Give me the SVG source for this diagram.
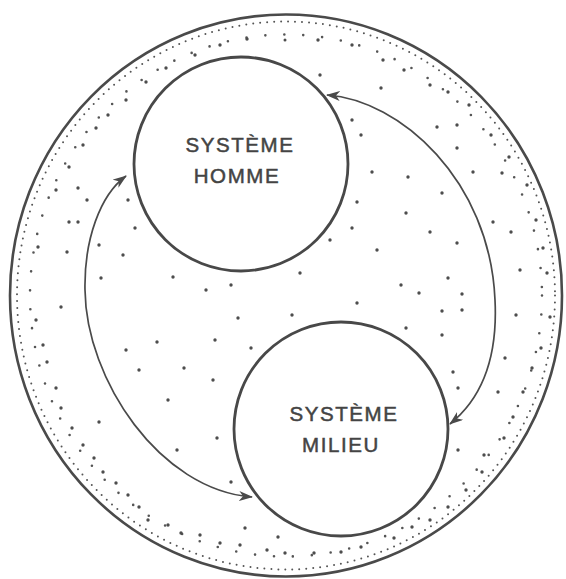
<svg xmlns="http://www.w3.org/2000/svg" width="566" height="579" viewBox="0 0 566 579">
<style>
.ring{fill:none;stroke:#4a4a4a;stroke-width:2.6}
.node{fill:none;stroke:#484848;stroke-width:2.8}
.lbl{font-family:"Liberation Sans",Arial,sans-serif;font-size:20.5px;font-weight:normal;fill:#444;stroke:#444;stroke-width:0.5;text-anchor:middle;letter-spacing:1.6px}
.dotline{fill:none;stroke:#555;stroke-linecap:round}
.conn{fill:none;stroke:#4a4a4a;stroke-width:1.7}
.st circle{fill:#4d4d4d}
</style>
<defs>
<marker id="ah" viewBox="0 0 14 10" refX="13" refY="5" markerWidth="14" markerHeight="10" markerUnits="userSpaceOnUse" orient="auto-start-reverse">
<path d="M0,0 L14,5 L0,10 L4,5 Z" fill="#4a4a4a"/>
</marker>
</defs>
<rect width="566" height="579" fill="#ffffff"/>
<g id="environnement">
<ellipse class="ring" cx="286" cy="295.5" rx="276" ry="281"/>
<ellipse class="dotline" cx="286" cy="295.5" rx="269" ry="274" stroke-width="2" stroke-dasharray="0 7"/>
<ellipse class="dotline" cx="286" cy="295.5" rx="256" ry="261" stroke-width="2.6" stroke-dasharray="0 19"/>
</g>
<g class="st" id="stipple">
<circle cx="247" cy="39" r="1.7"/><circle cx="285" cy="40" r="1.5"/><circle cx="318" cy="40" r="1.7"/><circle cx="352" cy="45" r="1.7"/>
<circle cx="220" cy="45" r="1.7"/><circle cx="195" cy="55" r="1.7"/><circle cx="166" cy="68" r="1.7"/><circle cx="146" cy="82" r="1.7"/>
<circle cx="126" cy="100" r="1.7"/><circle cx="108" cy="115" r="1.7"/><circle cx="96" cy="128" r="1.7"/><circle cx="83" cy="145" r="1.7"/>
<circle cx="69" cy="167" r="1.7"/><circle cx="56" cy="190" r="1.7"/><circle cx="78" cy="188" r="1.7"/><circle cx="87" cy="200" r="1.7"/>
<circle cx="69" cy="222" r="1.7"/><circle cx="78" cy="222" r="1.7"/><circle cx="38" cy="247" r="1.7"/><circle cx="67" cy="252" r="1.7"/>
<circle cx="99" cy="245" r="1.7"/><circle cx="123" cy="255" r="1.7"/><circle cx="135" cy="228" r="1.7"/><circle cx="128" cy="200" r="1.7"/>
<circle cx="101" cy="278" r="1.7"/><circle cx="173" cy="277" r="1.7"/><circle cx="231" cy="285" r="1.7"/><circle cx="300" cy="273" r="1.7"/>
<circle cx="330" cy="240" r="1.7"/><circle cx="352" cy="228" r="1.7"/><circle cx="357" cy="202" r="1.7"/><circle cx="372" cy="172" r="1.7"/>
<circle cx="361" cy="135" r="1.7"/><circle cx="352" cy="120" r="1.7"/><circle cx="320" cy="75" r="1.7"/><circle cx="381" cy="88" r="1.7"/>
<circle cx="383" cy="60" r="1.7"/><circle cx="404" cy="70" r="1.7"/><circle cx="430" cy="85" r="1.7"/><circle cx="448" cy="92" r="1.7"/>
<circle cx="437" cy="127" r="1.7"/><circle cx="457" cy="125" r="1.7"/><circle cx="457" cy="148" r="1.7"/><circle cx="469" cy="105" r="1.7"/>
<circle cx="491" cy="135" r="1.7"/><circle cx="408" cy="177" r="1.7"/><circle cx="442" cy="193" r="1.7"/><circle cx="473" cy="172" r="1.7"/>
<circle cx="502" cy="173" r="1.7"/><circle cx="527" cy="185" r="1.7"/><circle cx="509" cy="157" r="1.7"/><circle cx="406" cy="213" r="1.7"/>
<circle cx="430" cy="232" r="1.7"/><circle cx="457" cy="243" r="1.7"/><circle cx="377" cy="250" r="1.7"/><circle cx="401" cy="285" r="1.7"/>
<circle cx="448" cy="278" r="1.7"/><circle cx="493" cy="222" r="1.7"/><circle cx="511" cy="232" r="1.7"/><circle cx="520" cy="270" r="1.7"/>
<circle cx="536" cy="220" r="1.7"/><circle cx="543" cy="248" r="1.7"/><circle cx="547" cy="273" r="1.7"/>
<circle cx="206" cy="290" r="1.7"/><circle cx="238" cy="318" r="1.7"/><circle cx="292" cy="315" r="1.7"/><circle cx="357" cy="303" r="1.7"/>
<circle cx="419" cy="293" r="1.7"/><circle cx="462" cy="294" r="1.7"/><circle cx="442" cy="311" r="1.7"/><circle cx="462" cy="310" r="1.7"/>
<circle cx="406" cy="328" r="1.7"/><circle cx="442" cy="335" r="1.7"/><circle cx="126" cy="350" r="1.7"/><circle cx="157" cy="342" r="1.7"/>
<circle cx="215" cy="340" r="1.7"/><circle cx="251" cy="348" r="1.7"/><circle cx="139" cy="370" r="1.7"/><circle cx="184" cy="368" r="1.7"/>
<circle cx="213" cy="380" r="1.7"/><circle cx="168" cy="400" r="1.7"/><circle cx="217" cy="438" r="1.7"/><circle cx="177" cy="450" r="1.7"/>
<circle cx="99" cy="422" r="1.7"/><circle cx="61" cy="307" r="1.7"/><circle cx="36" cy="320" r="1.7"/><circle cx="43" cy="345" r="1.7"/>
<circle cx="47" cy="362" r="1.7"/><circle cx="56" cy="388" r="1.7"/><circle cx="61" cy="408" r="1.7"/><circle cx="72" cy="428" r="1.7"/>
<circle cx="83" cy="445" r="1.7"/><circle cx="94" cy="458" r="1.7"/><circle cx="103" cy="472" r="1.7"/><circle cx="116" cy="483" r="1.7"/>
<circle cx="128" cy="495" r="1.7"/><circle cx="139" cy="507" r="1.7"/><circle cx="231" cy="482" r="1.7"/><circle cx="453" cy="372" r="1.7"/>
<circle cx="458" cy="388" r="1.7"/><circle cx="498" cy="392" r="1.7"/><circle cx="505" cy="358" r="1.7"/><circle cx="523" cy="392" r="1.7"/>
<circle cx="532" cy="368" r="1.7"/><circle cx="541" cy="348" r="1.7"/><circle cx="550" cy="317" r="1.7"/><circle cx="516" cy="315" r="1.7"/>
<circle cx="513" cy="417" r="1.7"/><circle cx="504" cy="438" r="1.7"/><circle cx="484" cy="455" r="1.7"/><circle cx="482" cy="472" r="1.7"/>
<circle cx="458" cy="450" r="1.7"/><circle cx="466" cy="490" r="1.7"/><circle cx="448" cy="507" r="1.7"/><circle cx="430" cy="520" r="1.7"/>
<circle cx="412" cy="527" r="1.7"/><circle cx="394" cy="538" r="1.7"/><circle cx="361" cy="547" r="1.7"/><circle cx="341" cy="552" r="1.7"/>
<circle cx="314" cy="553" r="1.7"/><circle cx="285" cy="553" r="1.7"/><circle cx="267" cy="550" r="1.7"/><circle cx="240" cy="545" r="1.7"/>
<circle cx="220" cy="543" r="1.7"/><circle cx="200" cy="535" r="1.7"/><circle cx="181" cy="533" r="1.7"/><circle cx="168" cy="525" r="1.7"/>
<circle cx="148" cy="520" r="1.7"/><circle cx="245" cy="528" r="1.7"/><circle cx="278" cy="537" r="1.7"/>
</g>
<g id="connectors">
<path class="conn" d="M126,176 C100,195 84,240 85,290 C86,380 160,490 252,497" marker-start="url(#ah)" marker-end="url(#ah)"/>
<path class="conn" d="M327,95 C400,100 490,180 495,300 C498,360 480,400 450,424" marker-start="url(#ah)" marker-end="url(#ah)"/>
</g>
<g id="systeme-homme">
<circle class="node" cx="241" cy="164" r="107"/>
<text class="lbl" x="240" y="152">SYSTÈME</text>
<text class="lbl" x="237" y="183">HOMME</text>
</g>
<g id="systeme-milieu">
<circle class="node" cx="341" cy="429" r="107"/>
<text class="lbl" x="344" y="421">SYSTÈME</text>
<text class="lbl" x="341" y="452">MILIEU</text>
</g>
</svg>
